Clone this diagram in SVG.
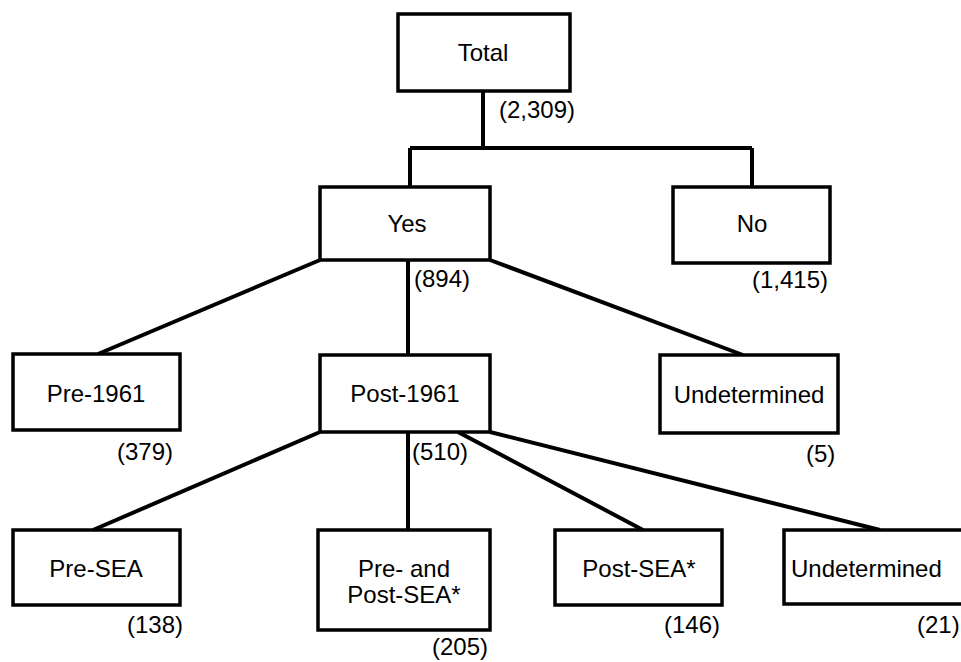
<svg xmlns="http://www.w3.org/2000/svg" width="961" height="662" viewBox="0 0 961 662">
<style>
.box{fill:#fff;stroke:#000;stroke-width:3.5}
.lbl{font-family:"Liberation Sans",Arial,Helvetica,sans-serif;font-size:24px;fill:#000;text-anchor:middle}
.num{font-family:"Liberation Sans",Arial,Helvetica,sans-serif;font-size:24px;fill:#000}
.con{fill:none;stroke:#000;stroke-width:4;stroke-linecap:butt}
</style>
<rect width="961" height="662" fill="#fff"/>
<g id="connectors">
<path class="con" d="M483,91 V148 M410,148 H752 M410,148 V187 M752,148 V187"/>
<path class="con" d="M320,260 L98,354 M408,260 V355 M490,260 L743,355"/>
<path class="con" d="M320,432 L93,530 M408,432 V530 M458,432 L643,530 M490,432 L880,530"/>
</g>
<g id="total"><rect class="box" x="398" y="14" width="172" height="77"/><text class="lbl" x="483" y="61">Total</text><text class="num" x="499" y="118">(2,309)</text></g>
<g id="yes"><rect class="box" x="320" y="187" width="170" height="73"/><text class="lbl" x="407" y="232">Yes</text><text class="num" x="414" y="287">(894)</text></g>
<g id="no"><rect class="box" x="673" y="187" width="157" height="76"/><text class="lbl" x="752" y="232">No</text><text class="num" x="752" y="288">(1,415)</text></g>
<g id="pre1961"><rect class="box" x="13" y="354" width="167" height="76"/><text class="lbl" x="96" y="402">Pre-1961</text><text class="num" x="117" y="460">(379)</text></g>
<g id="post1961"><rect class="box" x="320" y="355" width="170" height="77"/><text class="lbl" x="405" y="402">Post-1961</text><text class="num" x="412" y="460">(510)</text></g>
<g id="undetermined1"><rect class="box" x="660" y="355" width="178" height="78"/><text class="lbl" x="749" y="403">Undetermined</text><text class="num" x="806" y="462">(5)</text></g>
<g id="presea"><rect class="box" x="13" y="530" width="167" height="75"/><text class="lbl" x="96" y="577">Pre-SEA</text><text class="num" x="127" y="633">(138)</text></g>
<g id="prepostsea"><rect class="box" x="318" y="530" width="172" height="100"/><text class="lbl" x="404" y="577">Pre- and</text><text class="lbl" x="404" y="603">Post-SEA*</text><text class="num" x="432" y="655">(205)</text></g>
<g id="postsea"><rect class="box" x="555" y="530" width="167" height="75"/><text class="lbl" x="639" y="577">Post-SEA*</text><text class="num" x="664" y="633">(146)</text></g>
<g id="undetermined2"><rect class="box" x="784" y="530" width="190" height="74"/><text class="num" x="791" y="577">Undetermined</text><text class="num" x="917" y="633">(21)</text></g>
</svg>
